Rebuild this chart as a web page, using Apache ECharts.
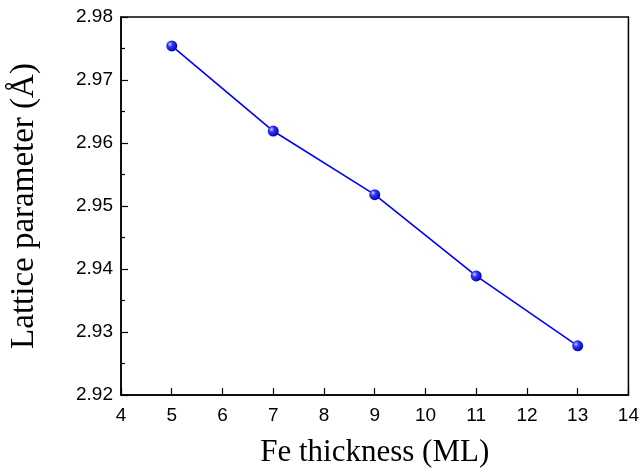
<!DOCTYPE html>
<html>
<head>
<meta charset="utf-8">
<script src="https://cdn.jsdelivr.net/npm/echarts@6/dist/echarts.min.js"></script>
<style>html,body{margin:0;padding:0;background:#fff;}#c{width:642px;height:476px;}</style>
</head>
<body>
<div id="c"></div>
<script>
var thickness = [5, 7, 9, 11, 13];
var lattice = [2.9754, 2.9619, 2.9518, 2.9389, 2.9278];
var xTitle = 'Fe thickness (ML)';
var yTitle = 'Lattice parameter (Å)';

var chart = echarts.init(document.getElementById('c'));
chart.setOption({
  animation: false,
  backgroundColor: '#fff',
  grid: { left: 120, right: 12, top: 17, bottom: 81, show: true, borderColor: '#000', borderWidth: 1.5, backgroundColor: 'transparent' },
  xAxis: {
    type: 'value', min: 4, max: 14, interval: 1,
    name: xTitle, nameLocation: 'middle', nameGap: 42,
    nameTextStyle: { fontFamily: 'Liberation Serif', fontSize: 31, color: '#000' },
    axisLine: { show: true, lineStyle: { color: '#000', width: 1.5 } },
    axisTick: { show: true, inside: true, length: 7, lineStyle: { color: '#000', width: 1.2 } },
    axisLabel: { fontFamily: 'Liberation Sans', fontSize: 19, color: '#000', margin: 11 },
    splitLine: { show: false }
  },
  yAxis: {
    type: 'value', min: 2.92, max: 2.98, interval: 0.01,
    name: yTitle, nameLocation: 'middle', nameGap: 80,
    nameTextStyle: { fontFamily: 'Liberation Serif', fontSize: 33, color: '#000' },
    axisLine: { show: true, lineStyle: { color: '#000', width: 1.5 } },
    axisTick: { show: true, inside: true, length: 7, lineStyle: { color: '#000', width: 1.2 } },
    minorTick: { show: true, splitNumber: 2, length: 4, lineStyle: { color: '#000', width: 1.2 } },
    axisLabel: { fontFamily: 'Liberation Sans', fontSize: 19, color: '#000', margin: 8,
      formatter: function (v) { return v.toFixed(2); } },
    splitLine: { show: false }
  },
  series: [{
    type: 'line',
    data: thickness.map(function (x, i) { return [x, lattice[i]]; }),
    symbol: 'circle', symbolSize: 11,
    lineStyle: { color: '#0000ff', width: 1.6 },
    itemStyle: {
      color: {
        type: 'radial', x: 0.35, y: 0.35, r: 0.7,
        colorStops: [{ offset: 0, color: '#ccccff' }, { offset: 0.35, color: '#3333ff' }, { offset: 1, color: '#0000aa' }]
      },
      borderWidth: 0
    }
  }]
});
</script>
</body>
</html>
